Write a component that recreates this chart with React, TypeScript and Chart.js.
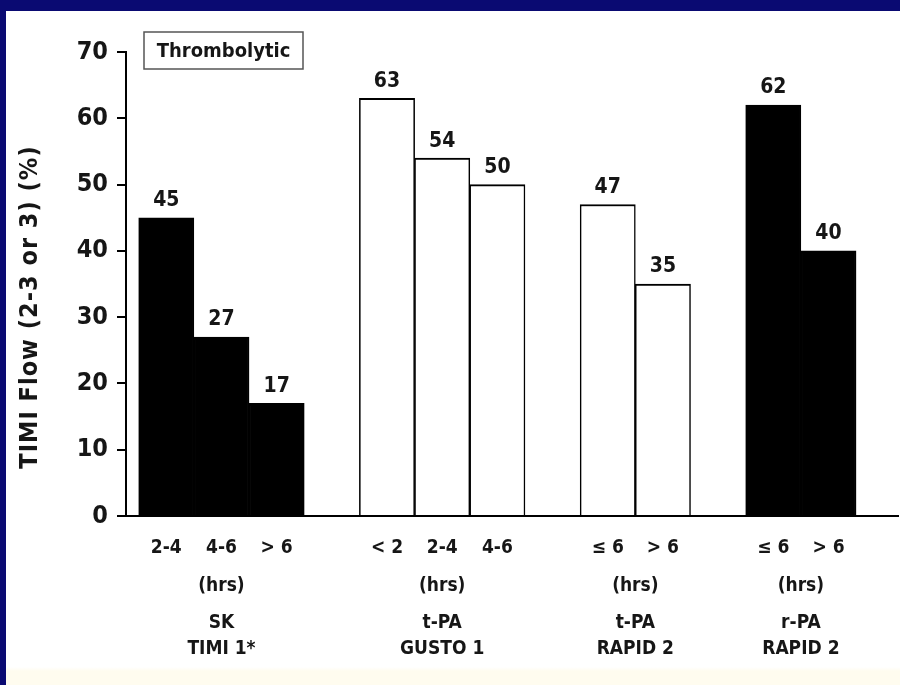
import React, { useEffect, useRef } from "react";
import { Chart, registerables } from "chart.js";

Chart.register(...registerables);

// ---- data ----
const groupNames = [
  ["SK", "TIMI 1*"],
  ["t-PA", "GUSTO 1"],
  ["t-PA", "RAPID 2"],
  ["r-PA", "RAPID 2"],
];
const groupTimes = [
  ["2-4", "4-6", "> 6"],
  ["< 2", "2-4", "4-6"],
  ["≤ 6", "> 6"],
  ["≤ 6", "> 6"],
];
const groupValues = [
  [45, 27, 17],
  [63, 54, 50],
  [47, 35],
  [62, 40],
];
const groupFilled = [true, false, false, true];
const yTitle = "TIMI Flow (2-3 or 3) (%)";
const boxLabel = "Thrombolytic";
const unitLabel = "(hrs)";
const yMin = 0;
const yMax = 70;
const yStep = 10;

// ---- derived slots (one empty slot between groups) ----
type Slot = { x: number; y: number; label: string; group: number };
const slots: Slot[] = [];
{
  let pos = 0;
  groupValues.forEach((vals, g) => {
    vals.forEach((v, i) => {
      slots.push({ x: pos, y: v, label: groupTimes[g][i], group: g });
      pos++;
    });
    pos++;
  });
}

const FONT =
  '"Liberation Sans Narrow", "Arial Narrow", "DejaVu Sans Condensed", "Liberation Sans", sans-serif';
const TEXT = "#161616";

const annotate = {
  id: "annotate",
  afterDraw(chart: any) {
    const { ctx, chartArea } = chart;
    const xs = chart.scales.x;
    const meta = chart.getDatasetMeta(0);
    ctx.save();
    ctx.fillStyle = TEXT;
    ctx.textAlign = "center";
    ctx.textBaseline = "middle";
    ctx.font = `bold 21px ${FONT}`;
    meta.data.forEach((el: any, i: number) => {
      ctx.fillText(String(slots[i].y), el.x, el.y - 17);
    });
    ctx.font = `bold 19px ${FONT}`;
    groupValues.forEach((_, g) => {
      const ps = slots.filter((s) => s.group === g).map((s) => xs.getPixelForValue(s.x));
      const cx = ps.reduce((a, b) => a + b, 0) / ps.length;
      ctx.fillText(unitLabel, cx, chartArea.bottom + 70);
      ctx.fillText(groupNames[g][0], cx, chartArea.bottom + 107);
      ctx.fillText(groupNames[g][1], cx, chartArea.bottom + 133);
    });
    // y-axis title
    ctx.save();
    ctx.translate(30, (chartArea.top + chartArea.bottom) / 2 + 23);
    ctx.rotate(-Math.PI / 2);
    ctx.font = `bold 25px ${FONT}`;
    try {
      (ctx as any).letterSpacing = "1px";
    } catch (e) {}
    ctx.fillText(yTitle, 0, 0);
    ctx.restore();
    // thrombolytic box
    const bx = chartArea.left + 18;
    const by = 32;
    const bw = 159;
    const bh = 37;
    ctx.strokeStyle = "#555";
    ctx.lineWidth = 1.5;
    ctx.strokeRect(bx, by, bw, bh);
    ctx.font = `bold 20px ${FONT}`;
    ctx.fillText(boxLabel, bx + bw / 2, by + bh / 2 + 1);
    ctx.restore();
  },
};

export default function App() {
  const ref = useRef<HTMLCanvasElement | null>(null);
  useEffect(() => {
    if (!ref.current) return;
    const chart = new Chart(ref.current, {
      type: "bar",
      data: {
        datasets: [
          {
            data: slots.map((s) => ({ x: s.x, y: s.y })),
            backgroundColor: slots.map((s) => (groupFilled[s.group] ? "#000" : "#fff")),
            borderColor: "#000",
            borderWidth: { top: 2, left: 1.5, right: 1.5, bottom: 0 },
            borderSkipped: "start",
            categoryPercentage: 1,
            barPercentage: 1,
          } as any,
        ],
      },
      options: {
        animation: false,
        responsive: false,
        devicePixelRatio: 1,
        layout: { padding: { top: 52, left: 0, right: 2, bottom: 0 } },
        plugins: { legend: { display: false }, tooltip: { enabled: false } },
        scales: {
          x: {
            type: "linear",
            offset: false,
            min: -0.73,
            max: 13.26,
            grid: { display: false, offset: false },
            border: { display: true, color: "#000", width: 2 },
            afterBuildTicks: (scale: any) => {
              scale.ticks = slots.map((s) => ({ value: s.x }));
            },
            afterFit: (scale: any) => {
              scale.height = 169;
            },
            ticks: {
              autoSkip: false,
              maxRotation: 0,
              padding: 13,
              color: TEXT,
              font: { family: FONT, size: 19, weight: "bold" },
              callback: (_v: any, i: number) => slots[i]?.label ?? "",
            },
          },
          y: {
            min: yMin,
            max: yMax,
            grid: {
              display: true,
              drawOnChartArea: false,
              drawTicks: true,
              tickLength: 9,
              color: "#000",
              lineWidth: 2,
            },
            border: { display: true, color: "#000", width: 2 },
            afterFit: (scale: any) => {
              scale.width = 126;
            },
            ticks: {
              stepSize: yStep,
              padding: 9,
              color: TEXT,
              font: { family: FONT, size: 25, weight: "bold" },
            },
          },
        },
      },
      plugins: [annotate],
    });
    return () => chart.destroy();
  }, []);

  return (
    <div
      style={{
        position: "fixed",
        left: 0,
        top: 0,
        width: 900,
        height: 685,
        background: "#0a0a72",
        overflow: "hidden",
      }}
    >
      <div
        style={{
          position: "absolute",
          left: 6,
          top: 11,
          width: 894,
          height: 674,
          background: "linear-gradient(to bottom, #ffffff 0px, #ffffff 656px, #fffcef 660px, #fffcef 674px)",
        }}
      />
      <canvas
        ref={ref}
        width={900}
        height={685}
        style={{ position: "absolute", left: 0, top: 0, width: 900, height: 685 }}
      />
    </div>
  );
}
